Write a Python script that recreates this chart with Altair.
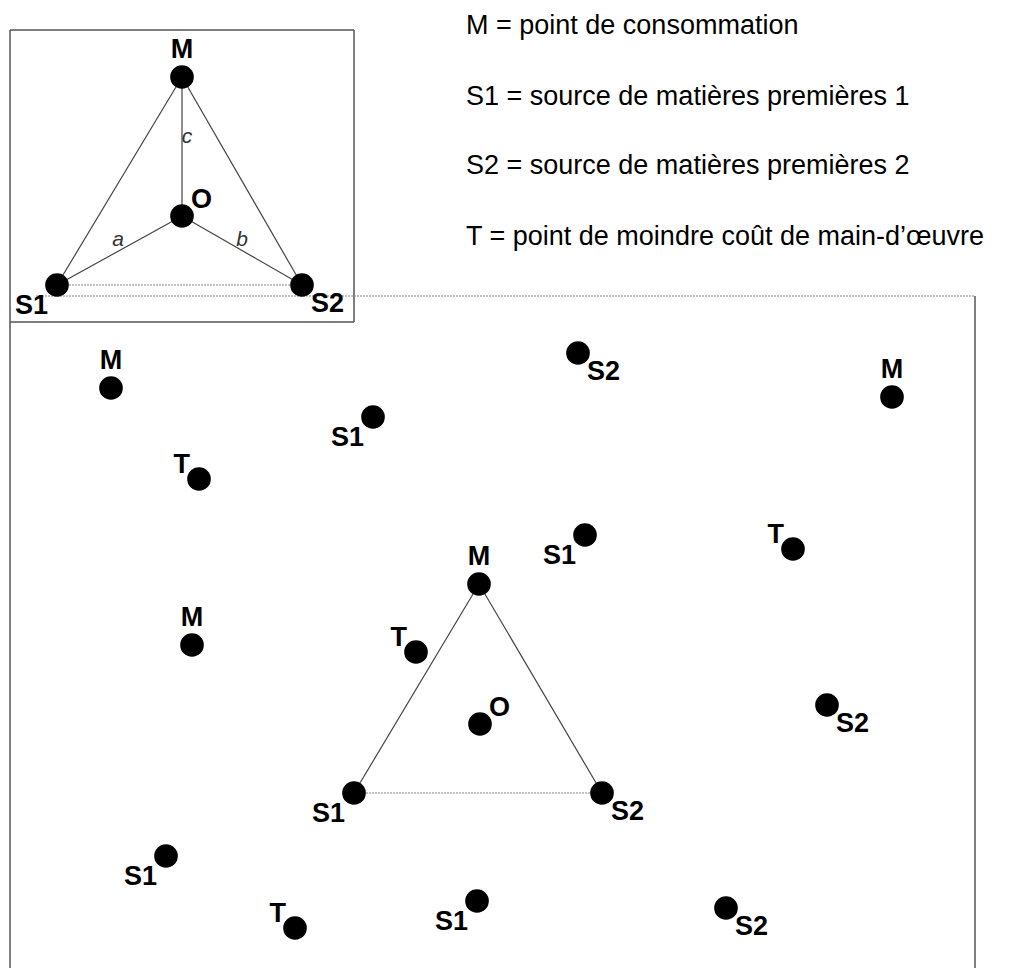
import altair as alt
import pandas as pd

# ---- data (reference pixel coordinates) ----
pt_kind = ["M", "S2", "M", "S1", "T", "S1", "T", "M", "M", "T", "O", "S2",
           "S1", "S2", "S1", "T", "S1", "S2",
           "M", "O", "S1", "S2"]
pt_x = [111, 578, 892, 373, 199, 585, 793, 479, 192, 416, 480, 827,
        354, 602, 166, 295, 477, 726,
        182, 182, 57, 302]
pt_y = [388, 353, 397, 417, 479, 535, 549, 584, 645, 652, 724, 705,
        793, 793, 856, 928, 901, 908,
        77, 216, 285, 285]
pt_pos = ["above", "lr", "above", "ll", "ul", "ll", "ul", "above", "above", "ul", "ur", "lr",
          "ll", "lr", "ll", "ul", "ll", "lr",
          "above", "ur", "ll", "lr"]

# segments: solid triangle edges and dotted bases
seg_x1 = [479, 479, 182, 182, 182, 182, 182]
seg_y1 = [584, 584, 77, 77, 77, 216, 216]
seg_x2 = [354, 602, 57, 302, 182, 57, 302]
seg_y2 = [793, 793, 285, 285, 216, 285, 285]
dot_x1 = [354, 57, 36]
dot_y1 = [793, 285, 296]
dot_x2 = [602, 302, 975]
dot_y2 = [793, 285, 296]

# frames
frame_x1 = [10, 10, 354, 10, 10, 975]
frame_y1 = [30, 322, 30, 30, 322, 296]
frame_x2 = [354, 354, 354, 10, 10, 975]
frame_y2 = [30, 322, 322, 322, 976, 976]

# italic distance letters in inset
dist_lbl = ["a", "b", "c"]
dist_x = [118, 242, 187]
dist_y = [240, 240, 137]

legend_lines = ["M = point de consommation",
                "S1 = source de matières premières 1",
                "S2 = source de matières premières 2",
                "T = point de moindre coût de main-d\u2019œuvre"]
legend_x = [466, 466, 466, 466]
legend_y = [26, 97, 166, 237]

FONT = "Liberation Sans, Arial"

pts = pd.DataFrame({"kind": pt_kind, "x": pt_x, "y": pt_y, "pos": pt_pos})
segs = pd.DataFrame({"x": seg_x1, "y": seg_y1, "x2": seg_x2, "y2": seg_y2})
dots = pd.DataFrame({"x": dot_x1, "y": dot_y1, "x2": dot_x2, "y2": dot_y2})
frames = pd.DataFrame({"x": frame_x1, "y": frame_y1, "x2": frame_x2, "y2": frame_y2})
dist = pd.DataFrame({"t": dist_lbl, "x": dist_x, "y": dist_y})
leg = pd.DataFrame({"t": legend_lines, "x": legend_x, "y": legend_y})

xs = alt.Scale(domain=[8, 1002], range=[0, 994])
ys = alt.Scale(domain=[8, 968], range=[0, 960])
X = alt.X("x:Q", scale=xs, axis=None)
Y = alt.Y("y:Q", scale=ys, axis=None)

frame_layer = alt.Chart(frames).mark_rule(color="#555555", strokeWidth=1.5).encode(
    x=X, y=Y, x2="x2:Q", y2="y2:Q")
seg_layer = alt.Chart(segs).mark_rule(color="#444444", strokeWidth=1.2).encode(
    x=X, y=Y, x2="x2:Q", y2="y2:Q")
dot_layer = alt.Chart(dots).mark_rule(color="#888888", strokeWidth=1.2,
                                      strokeDash=[2, 1]).encode(
    x=X, y=Y, x2="x2:Q", y2="y2:Q")
circ = alt.Chart(pts).mark_circle(size=560, color="black", opacity=1).encode(x=X, y=Y)

offsets = {"above": (0, -13, "center", "bottom"),
           "ll": (-9, 8, "right", "top"),
           "lr": (9, 6, "left", "top"),
           "ul": (-9, 0, "right", "bottom"),
           "ur": (9, -2, "left", "bottom")}
label_layers = []
for p, (dx, dy, al, bl) in offsets.items():
    label_layers.append(
        alt.Chart(pts).transform_filter(alt.datum.pos == p).mark_text(
            font=FONT, fontSize=27, fontWeight="bold", color="black",
            dx=dx, dy=dy, align=al, baseline=bl).encode(x=X, y=Y, text="kind:N"))

dist_layer = alt.Chart(dist).mark_text(font=FONT, fontSize=21,
                                       fontStyle="italic", color="#333333").encode(
    x=X, y=Y, text="t:N")
leg_layer = alt.Chart(leg).mark_text(font=FONT, fontSize=27, color="black",
                                     align="left", baseline="middle").encode(
    x=X, y=Y, text="t:N")

chart = alt.layer(frame_layer, seg_layer, dot_layer, circ, *label_layers,
                  dist_layer, leg_layer).properties(
    width=994, height=960, padding=0,
    autosize=alt.AutoSizeParams(type="none")
).configure_view(stroke=None)

chart.save("out.html", embed_options={"renderer": "svg", "actions": False})
